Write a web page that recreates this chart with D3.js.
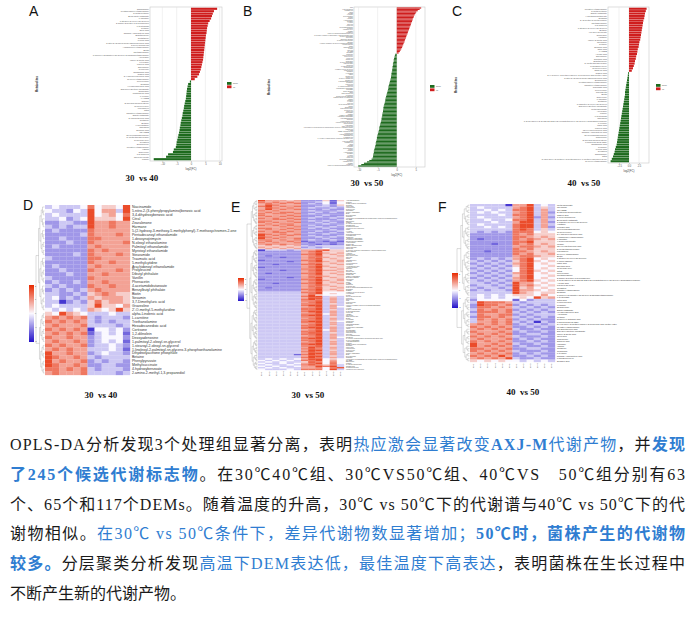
<!DOCTYPE html>
<html>
<head>
<meta charset="utf-8">
<script src="https://cdn.jsdelivr.net/npm/d3@7"></script>
<style>
  body { margin: 0; background: #fff; }
  svg { display: block; }
</style>
</head>
<body>
<div id="fig"></div>
<script>
// ---- values ----

// log2(FC) bars, sorted as in the figure (top to bottom)
var barsA = [9.1, 8.0, 7.6, 7.3, 7.0, 6.5, 6.0, 5.8, 5.6, 5.5, 5.4, 5.2, 5.1, 5.0, 4.9, 4.8, 4.7, 4.6, 4.5, 4.4,
  4.3, 4.2, 4.0, 3.8, 3.6, 3.4, 3.1, 2.8, 2.2, 1.3,
  -0.4, -1.0, -1.2, -1.4, -1.5, -1.6, -1.7, -1.8, -2.0, -2.2, -2.4, -2.5, -2.7, -2.9, -3.0, -3.2, -3.4, -3.6,
  -3.7, -3.9, -4.0, -4.2, -4.4, -4.6, -4.8, -5.0, -5.1, -5.3, -6.0, -6.3, -8.0, -8.7, -13.0];

var barsB = [6.4, 6.0, 5.5, 5.1, 4.9, 4.7, 4.5, 4.4, 4.2, 4.1, 4.0, 3.8, 3.7, 3.6, 3.4, 3.3, 3.2, 3.0, 2.9, 2.8,
  2.6, 2.5, 2.4, 2.2, 2.1, 2.0, 1.8, 1.7, 1.5, 1.4, 1.2, 1.0, 0.8, 0.5,
  -0.4, -0.5, -0.6, -0.7, -0.8, -0.8, -0.9, -1.0, -1.0, -1.1,
  -1.1, -1.2, -1.2, -1.3, -1.4, -1.4, -1.5, -1.5, -1.6, -1.7,
  -1.8, -1.9, -2.0, -2.1, -2.2, -2.2, -2.3, -2.4, -2.5, -2.6,
  -2.7, -2.8, -2.9, -3.0, -3.0, -3.1, -3.2, -3.3, -3.4, -3.5,
  -3.5, -3.6, -3.6, -3.7, -3.8, -3.8, -3.9, -4.0, -4.0, -4.1,
  -4.2, -4.3, -4.4, -4.5, -4.6, -4.6, -4.7, -4.8, -4.9, -5.0,
  -5.1, -5.2, -5.2, -5.3, -5.4, -5.5, -5.5, -5.6, -5.7, -5.8,
  -5.9, -6.0, -6.0, -6.1, -6.2, -6.2, -6.3, -6.6, -7.2, -7.8,
  -8.6, -9.3, -10.1];

var barsC = [4.4, 4.2, 4.0, 3.9, 3.8, 3.6, 3.5, 3.4, 3.3, 3.2, 3.1, 3.0, 2.9, 2.8, 2.6, 2.5, 2.4, 2.2, 2.1, 2.0,
  1.8, 1.7, 1.5, 1.4, 1.2, 1.0, 0.7,
  -0.2, -0.3, -0.4, -0.5, -0.6, -0.7, -0.8, -0.9, -1.0, -1.0, -1.1, -1.2, -1.3, -1.4, -1.5, -1.6, -1.7, -1.8,
  -1.9, -2.0, -2.1, -2.2, -2.3, -2.4, -2.5, -2.6, -2.7, -2.8, -2.9, -3.0, -3.1, -3.3, -3.5, -3.6, -3.8, -4.0,
  -4.3, -4.6];

var ticksA = [-10, -5, 0, 5, 10];
var ticksB = [-10, -5, 0, 5];
var ticksC = [-2.5, 0, 2.5];
var legendTicks = [2, 1, 0, -1, -2];
var legendNames = ["down", "up"];

// heatmap rows: one char per column, 0..8 -> z-score -2..2 in steps of 0.5
var heatD = [
  "343334745548", "433243846638", "343333845647", "334234855548", "223322866766",
  "323233866766", "232222766666", "222223766676", "223222776666", "222322766667",
  "232222676666", "222222767666", "222232766676", "322222776666", "222222766766",
  "232222676666", "223222766676", "222322667666", "322222766666", "232232667666",
  "323222766766", "232323676666", "332232567655", "342323656665", "330232575665",
  "343333585546", "434343654585",
  "548654333433", "676767323332", "767676323233", "676667333323", "767676044342",
  "676767134341", "766766234442", "676676234341", "767667233432", "676766333431",
  "866766234332", "876676323333", "867667232332", "876676223322", "776767323332",
  "676667333323"];

var heatE = [
  "866656222515", "767676223414", "676767232414", "687666222325", "786767223323",
  "687676232232", "686767222322", "767666232223", "676776223232", "767767232222",
  "766676222322", "676767223223", "767676232232", "667767222223", "776676232322",
  "767667223232", "676776222322", "767676232223", "666767223232", "776676232322",
  "676767222232", "767676223223", "667766232232", "876767222322", "867676232223",
  "876766223232", "867667222322", "776767232232", "676676122121", "767667212212",
  "676766221212", "565656323333", "656565232333", "565656333433",
  "033323667855", "222222678555", "222222678656", "222222778565", "212222678556",
  "222122677655", "222222678565", "122222778556", "222212678656", "222222677565",
  "221222778556", "222222678655", "122222678565", "222222778556", "222122678665",
  "222222678556", "212222778565", "222222678556", "222222677655", "222212678565",
  "122222778556", "222222678656", "222222678565", "221222778556", "222222678655",
  "222222677565", "212222678556", "222222778565", "222222678556", "333333778444",
  "333333678454", "333333685444", "333333788353", "333333688363", "333333787363",
  "333333778363", "333333678363", "333333778353", "333333788363", "333333678364",
  "333333778363", "333333778353", "333333788363", "333333678363", "333333778463",
  "333333788363", "333333778353", "333333678363", "333333778363", "333333788354",
  "333333778363", "333333678363", "333333778353", "333333788363", "333333778363",
  "333333678463", "333333778363", "333333788353", "333333778363", "333333678363",
  "333333778364", "333333788363", "333333778353", "333333678363", "333333778363",
  "333333788363", "333333778353", "333333687363", "333333787363", "333333688353",
  "333333787363", "333333688363", "333331787363", "333333688353", "333333787363",
  "343434688454", "434343778464", "343433587474", "433434678474", "343343787573",
  "434334668783", "343433667478", "433343777483"];

var heatF = [
  "333330668343", "343333678353", "334343778363", "343433678362", "333343778363",
  "343333678262", "334334778363", "333433688362", "343333788363", "334343788362",
  "333333787353", "323232777454", "222222767555", "222222776565", "212222767656",
  "222222778555", "222122767565", "222222677656", "222222767555", "221222776565",
  "222222767556", "222222677655", "232323678454", "323232578545", "232323678454",
  "323232578445", "232323478454", "323232478545", "232323678454", "323232578445",
  "232323678454", "323232678545", "332323866454", "233232867545", "323323856454",
  "232332866545", "333333865455", "343434555464",
  "343434454856", "244444142333", "387776323333", "287767232323", "277676323232",
  "376767232323", "277767323232", "376677232333", "277676323232", "376767232322",
  "366767323032", "676767232323", "767676223232", "676767322322", "766676232232",
  "676767223322", "767676322232", "676667232322", "767676223232", "866767322322",
  "867676232232", "776767223322", "767676322232", "676767232322", "767686223232",
  "676768322322", "545454434343"];

var splitD = 27, splitE = 34, splitF = 38;

var colsE = ["30-1", "30-2", "30-3", "30-4", "30-5", "30-6", "50-1", "50-2", "50-3", "50-4", "50-5", "50-6"];
var colsF = ["40-1", "40-2", "40-3", "40-4", "40-5", "40-6", "50-1", "50-2", "50-3", "50-4", "50-5", "50-6"];

var labelsD = ["Niacinamide", "5-nitro-2-(3-phenylpropylamino)benzoic acid", "3,4-dihydroxybenzoic acid", "Citral",
  "Zearalenone", "Harmane", "5-(2-hydroxy-3-methoxy-5-methylphenyl)-7-methoxychromen-2-one",
  "Pentadecanoyl ethanolamide", "1-deoxynojirimycin", "N-oleoyl ethanolamine", "Palmitoyl ethanolamide",
  "Myristoyl ethanolamide", "Stearamide", "Traumatic acid", "5-methylcytidine", "Arachidonoyl ethanolamide",
  "Prolyleucine", "Dibutyl phthalate", "Vanillin", "Phenacetin", "4-acetamidobutanoate", "Benzylbutyl phthalate",
  "Biotin", "Sesamin", "3,7-Dimethyluric acid", "Graveoline", "2'-O-methyl-5-methyluridine",
  "alpha-Linolenic acid", "L-carnitine", "Triethanolamine", "Hexadecanedioic acid", "Cortisone",
  "1,2-dilinolein", "Deoxyadenosine", "1-palmitoyl-2-oleoyl-sn-glycerol", "1-stearoyl-2-oleoyl-sn-glycerol",
  "1-linoleoyl-2-palmitoyl-sn-glycero-3-phosphoethanolamine", "Dihydroxyacetone phosphate", "Betaine",
  "Phenylpyruvate", "Methylsuccinate", "4-hydroxybenzoate", "2-amino-2-methyl-1,3-propanediol"];

// extra names for the unreadable tiny row labels
var moreNames = ["Adenosine", "Guanosine", "Hypoxanthine", "Uridine", "Xanthine", "L-phenylalanine",
  "L-tryptophan", "Indole-3-acetic acid", "Pantothenic acid", "Riboflavin", "Thymidine", "Inosine",
  "1-O-hexadecyl-2-O-(5Z,8Z,11Z,14Z-eicosatetraenoyl)-sn-glyceryl-3-phosphorylcholine",
  "Cytidine", "L-tyrosine", "L-leucine", "Succinic acid", "Fumaric acid", "Malic acid", "Citric acid",
  "Oleic acid", "Linoleic acid", "9-HODE", "13-HODE", "12-oxo-phytodienoic acid", "Azelaic acid",
  "N-acetyl-L-glutamic acid", "gamma-Aminobutyric acid", "Spermidine", "Choline", "Glycerophosphocholine",
  "Nicotinic acid", "Kynurenic acid", "Trigonelline", "Ergothioneine", "Pyridoxine",
  "S-adenosylhomocysteine", "5'-methylthioadenosine", "PC(16:0/18:1(9Z))", "LysoPC(18:2(9Z,12Z))",
  "LysoPE(16:0/0:0)", "Glutathione", "Ophthalmic acid", "Cyclo(Leu-Pro)", "Cyclo(Phe-Pro)", "Tyramine",
  "Salicylic acid", "p-Coumaric acid", "Ferulic acid", "Caffeic acid", "Kaempferol", "Genistein",
  "3-(4-hydroxy-3-methoxyphenyl)-2-propenoic acid methyl ester", "Sebacic acid"];

var titles = ["30  vs 40", "30  vs 50", "40  vs 50", "30  vs 40", "30  vs 50", "40  vs 50"];
var letters = ["A", "B", "C", "D", "E", "F"];

// paragraph: [text, style] with 0 plain, 1 blue, 2 blue bold
var paragraph = [
  [["OPLS-DA分析发现3个处理组显著分离，表明", 0], ["热应激会显著改变", 1], ["AXJ-M", 2], ["代谢产物", 1], ["，并", 0], ["发现", 2]],
  [["了245个候选代谢标志物", 2], ["。在30℃40℃组、30℃VS50℃组、40℃VS　50℃组分别有63", 0]],
  [["个、65个和117个DEMs。随着温度的升高，30℃ vs 50℃下的代谢谱与40℃ vs 50℃下的代", 0]],
  [["谢物相似。", 0], ["在30℃ vs 50℃条件下，差异代谢物数显著增加；", 1], ["50℃时，菌株产生的代谢物", 2]],
  [["较多。", 2], ["分层聚类分析发现", 0], ["高温下DEM表达低，最佳温度下高表达", 1], ["，表明菌株在生长过程中", 0]],
  [["不断产生新的代谢产物。", 0]]
];

// ---- drawing ----
var W = 696, H = 618;
var svg = d3.select("#fig").append("svg").attr("width", W).attr("height", H);
var defs = svg.append("defs");

var allNames = labelsD.concat(moreNames);
function namesFor(n, start, step) {
  return d3.range(n).map(function (i) { return allNames[(start + i * step) % allNames.length]; });
}

var upColor = "#cf1d1d", downColor = "#1d6a1d";
var heatColor = d3.scaleLinear().domain([-2.4, 0, 2.4]).range(["#2210c8", "#faf8ff", "#e82a00"]).clamp(true);

function drawBars(o) {
  var g = svg.append("g");
  var x = d3.scaleLinear().domain(o.domain).range([o.left, o.right]);
  var y = d3.scaleBand().domain(d3.range(o.values.length)).range([o.top, o.bottom])
    .paddingInner(0.12).paddingOuter(0.3);

  g.append("rect")
    .attr("x", o.left).attr("y", o.top)
    .attr("width", o.right - o.left).attr("height", o.bottom - o.top)
    .attr("fill", "#fff").attr("stroke", "#c8c8c8").attr("stroke-width", 0.6);

  g.selectAll(".grid").data(o.ticks).enter().append("line")
    .attr("x1", d => x(d)).attr("x2", d => x(d))
    .attr("y1", o.top).attr("y2", o.bottom)
    .attr("stroke", "#e2e2e2").attr("stroke-width", 0.5);

  g.selectAll(".bar").data(o.values).enter().append("rect")
    .attr("x", d => Math.min(x(0), x(d)))
    .attr("width", d => Math.abs(x(d) - x(0)))
    .attr("y", (d, i) => y(i))
    .attr("height", y.bandwidth())
    .attr("fill", d => d > 0 ? upColor : downColor);

  var labels = namesFor(o.values.length, o.nameStart, o.nameStep);
  g.selectAll(".lab").data(labels).enter().append("text")
    .attr("x", o.left - 1)
    .attr("y", (d, i) => y(i) + y.bandwidth() / 2)
    .attr("dy", "0.35em")
    .attr("text-anchor", "end")
    .attr("font-family", "Liberation Sans, Arial, sans-serif")
    .attr("font-size", o.labelSize)
    .attr("fill", "#555")
    .text(d => d);

  var axis = g.append("g")
    .attr("transform", `translate(0, ${o.bottom})`)
    .call(d3.axisBottom(x).tickValues(o.ticks).tickSize(1.2).tickPadding(1)
      .tickFormat(o.tickFormat || d3.format("d")));
  axis.select(".domain").remove();
  axis.selectAll("line").attr("stroke", "#999").attr("stroke-width", 0.4);
  axis.selectAll("text").attr("font-size", 2.6).attr("fill", "#555")
    .attr("font-family", "Liberation Sans, Arial, sans-serif");

  g.append("text")
    .attr("x", x(0)).attr("y", o.bottom + 8.5)
    .attr("text-anchor", "middle")
    .attr("font-family", "Liberation Sans, Arial, sans-serif")
    .attr("font-size", 2.8).attr("fill", "#444")
    .text("log2(FC)");

  g.append("text")
    .attr("transform", `translate(${o.yTitleX}, ${(o.top + o.bottom) / 2}) rotate(-90)`)
    .attr("text-anchor", "middle")
    .attr("font-family", "Liberation Sans, Arial, sans-serif")
    .attr("font-size", 3).attr("font-weight", "bold").attr("fill", "#333")
    .text("Metabolites");

  // legend: down / up
  var lg = g.append("g").attr("transform", `translate(${o.legend[0]}, ${o.legend[1]})`);
  [downColor, upColor].forEach(function (c, i) {
    lg.append("rect").attr("x", 0).attr("y", i * 3.4).attr("width", 4.5).attr("height", 2.8).attr("fill", c);
    lg.append("text").attr("x", 6).attr("y", i * 3.4 + 1.4).attr("dy", "0.35em")
      .attr("font-size", 2).attr("fill", "#555")
      .attr("font-family", "Liberation Sans, Arial, sans-serif")
      .text(legendNames[i]);
  });
}

function drawTree(g, n, split, xl, xr, yc) {
  var depthMax = Math.log2(n);
  function node(a, b, top) {
    if (b - a === 1) return { x: xr, y: yc(a) };
    var m = top ? split : Math.floor((a + b) / 2);
    var c1 = node(a, m, false), c2 = node(m, b, false);
    var nx = top ? xl : xr - (xr - xl) * 0.8 * Math.log2(b - a) / depthMax;
    g.append("path").attr("d", `M${c1.x},${c1.y}H${nx}V${c2.y}H${c2.x}`);
    return { x: nx, y: (c1.y + c2.y) / 2 };
  }
  node(0, n, true);
}

function drawHeat(o, idx) {
  var g = svg.append("g");
  var n = o.rows.length;
  var x = d3.scaleBand().domain(d3.range(12)).range([o.left, o.right]);
  var y = d3.scaleBand().domain(d3.range(n)).range([o.top, o.bottom]);

  var cells = [];
  o.rows.forEach(function (r, i) {
    r.split("").forEach(function (ch, j) {
      cells.push({ row: i, col: j, v: (+ch - 4) / 2 });
    });
  });
  g.selectAll(".cell").data(cells).enter().append("rect")
    .attr("x", d => x(d.col))
    .attr("y", d => y(d.row))
    .attr("width", x.bandwidth() + 0.15)
    .attr("height", y.bandwidth() + 0.15)
    .attr("fill", d => heatColor(d.v));

  var labels = o.labels || namesFor(n, o.nameStart, o.nameStep);
  g.selectAll(".lab").data(labels).enter().append("text")
    .attr("x", o.right + 2)
    .attr("y", (d, i) => y(i) + y.bandwidth() / 2)
    .attr("dy", "0.35em")
    .attr("font-family", "Liberation Sans, Arial, sans-serif")
    .attr("font-size", o.labelSize)
    .attr("fill", "#333")
    .text(d => d);

  var tg = g.append("g").attr("fill", "none").attr("stroke", "#888").attr("stroke-width", 0.3);
  drawTree(tg, n, o.split, o.treeLeft, o.left - 0.5, function (i) { return y(i) + y.bandwidth() / 2; });

  // colour key
  var gid = "key" + idx;
  var grad = defs.append("linearGradient").attr("id", gid).attr("x1", 0).attr("x2", 0).attr("y1", 0).attr("y2", 1);
  [2.4, 1.2, 0, -1.2, -2.4].forEach(function (v, i) {
    grad.append("stop").attr("offset", i / 4).attr("stop-color", heatColor(v));
  });
  g.append("rect")
    .attr("x", o.key[0]).attr("y", o.key[1])
    .attr("width", o.key[2]).attr("height", o.key[3])
    .attr("fill", `url(#${gid})`);
  var ky = d3.scaleLinear().domain([2, -2]).range([o.key[1] + 1, o.key[1] + o.key[3] - 1]);
  g.selectAll(".kt").data(legendTicks).enter().append("text")
    .attr("x", o.key[0] + o.key[2] + 1)
    .attr("y", d => ky(d))
    .attr("dy", "0.35em")
    .attr("font-size", 1.8).attr("fill", "#444")
    .attr("font-family", "Liberation Sans, Arial, sans-serif")
    .text(d => d);

  if (o.cols) {
    g.selectAll(".cl").data(o.cols).enter().append("text")
      .attr("transform", (d, j) => `translate(${x(j) + x.bandwidth() / 2}, ${o.bottom + 1.5}) rotate(-90)`)
      .attr("text-anchor", "end")
      .attr("dy", "0.35em")
      .attr("font-size", 2.2).attr("fill", "#444")
      .attr("font-family", "Liberation Sans, Arial, sans-serif")
      .text(d => d);
  }
}

drawBars({ values: barsA, domain: [-14.3, 10.8], ticks: ticksA, left: 150, right: 222, top: 7, bottom: 161,
  labelSize: 2.2, nameStart: 0, nameStep: 7, yTitleX: 38, legend: [227, 82] });
drawBars({ values: barsB, domain: [-11.2, 7.4], ticks: ticksB, left: 354, right: 425, top: 7, bottom: 167,
  labelSize: 1.3, nameStart: 3, nameStep: 5, yTitleX: 270, legend: [430, 85] });
drawBars({ values: barsC, domain: [-5.25, 5], ticks: ticksC, left: 608, right: 649, top: 7, bottom: 163,
  labelSize: 2.2, nameStart: 11, nameStep: 3, yTitleX: 457, legend: [656, 84], tickFormat: d3.format(".1f") });

drawHeat({ rows: heatD, split: splitD, left: 45, right: 130, top: 205, bottom: 375, labels: labelsD,
  labelSize: 3.5, treeLeft: 36, key: [29, 285, 5, 57] }, 0);
drawHeat({ rows: heatE, split: splitE, left: 258, right: 344, top: 200, bottom: 370, nameStart: 20, nameStep: 11,
  labelSize: 1.35, treeLeft: 247, key: [238, 278, 6, 23], cols: colsE }, 1);
drawHeat({ rows: heatF, split: splitF, left: 470, right: 555, top: 204, bottom: 362, nameStart: 40, nameStep: 13,
  labelSize: 2.2, treeLeft: 457, key: [452, 273, 6, 35], cols: colsF }, 2);

// panel letters and titles
var letterPos = [[29, 16], [243, 16], [452, 16], [23, 210], [231, 212], [438, 212]];
svg.selectAll(".letter").data(letters).enter().append("text")
  .attr("x", (d, i) => letterPos[i][0]).attr("y", (d, i) => letterPos[i][1])
  .attr("font-family", "Liberation Sans, Arial, sans-serif")
  .attr("font-size", 14).attr("fill", "#111")
  .text(d => d);

var titlePos = [[142, 181], [367, 186], [584, 186], [101, 398], [308, 398], [523, 395]];
svg.selectAll(".ptitle").data(titles).enter().append("text")
  .attr("x", (d, i) => titlePos[i][0]).attr("y", (d, i) => titlePos[i][1])
  .attr("text-anchor", "middle")
  .attr("font-family", "Liberation Serif, Times New Roman, serif")
  .attr("font-weight", "bold")
  .attr("font-size", 9).attr("fill", "#111")
  .style("white-space", "pre")
  .text(d => d);

// paragraph under the figure
var para = svg.append("g")
  .attr("font-family", "'Liberation Serif', 'Noto Sans CJK SC', serif")
  .attr("font-size", 16);
paragraph.forEach(function (line, i) {
  var t = para.append("text").attr("x", 10).attr("y", 450 + i * 29.8);
  if (i < paragraph.length - 1) t.attr("textLength", 675).attr("lengthAdjust", "spacing");
  line.forEach(function (seg) {
    t.append("tspan")
      .attr("fill", seg[1] ? "#2f7dd1" : "#1a1a1a")
      .attr("font-weight", seg[1] === 2 ? "bold" : null)
      .text(seg[0]);
  });
});
</script>
</body>
</html>
